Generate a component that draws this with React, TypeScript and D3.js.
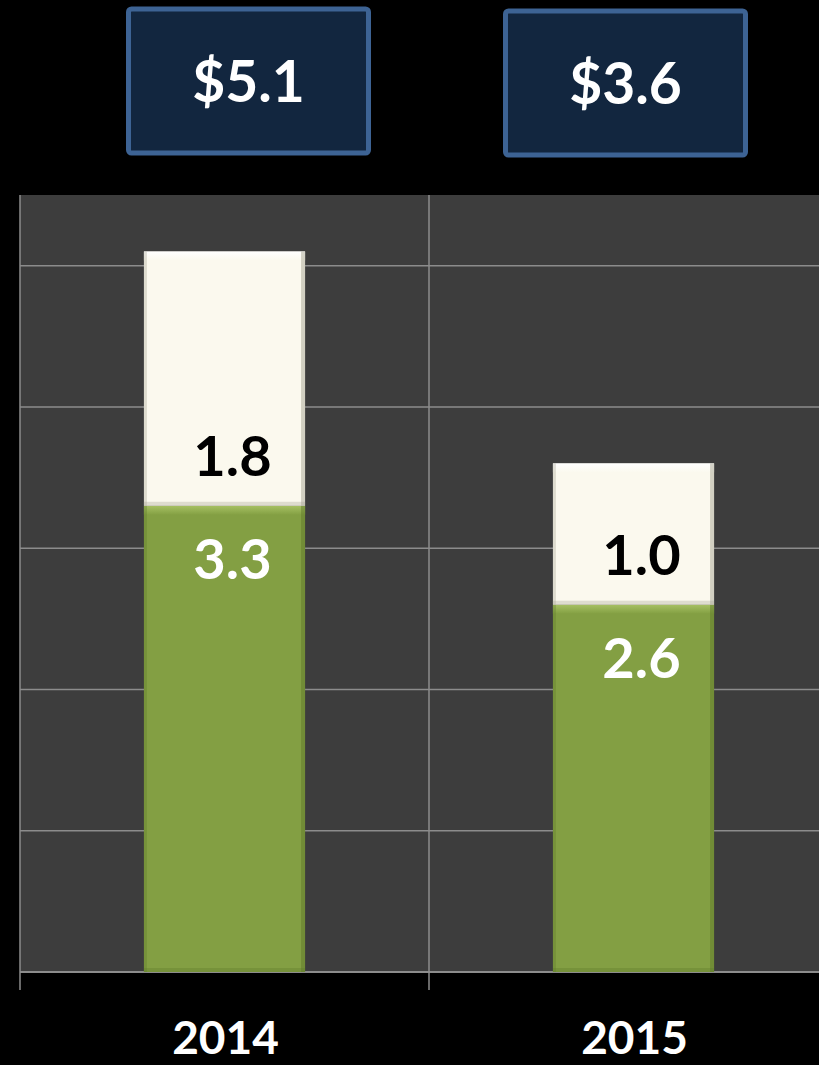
import { useEffect, useRef } from "react";
import * as d3 from "d3";

const years = ["2014", "2015"];
const baseValues = [3.3, 2.6];
const extraValues = [1.8, 1.0];
const totalLabels = ["$5.1", "$3.6"];
const yTicks = [1, 2, 3, 4, 5];

const W = 819;
const H = 1065;
const FONT = "Lato, 'Open Sans', sans-serif";

export default function App() {
  const ref = useRef<SVGSVGElement>(null);

  useEffect(() => {
    const svg = d3.select(ref.current);
    svg.selectAll("*").remove();

    const left = 20, right = 838, top = 195, bottom = 972;

    const outer = d3.scaleBand().domain(years).range([left, right]).padding(0);
    const x = d3
      .scaleBand()
      .domain(years)
      .range([left, right])
      .paddingInner(0.606)
      .paddingOuter(0.303);
    const y = d3.scaleLinear().domain([0, 5.5]).range([bottom, top]);

    const defs = svg.append("defs");
    const mkGrad = (id: string, stops: [number, string][]) => {
      const g = defs.append("linearGradient").attr("id", id).attr("x1", 0).attr("x2", 0).attr("y1", 0).attr("y2", 1);
      stops.forEach(([o, c]) => g.append("stop").attr("offset", o).attr("stop-color", c));
    };
    mkGrad("hiCream", [[0, "#ffffff"], [1, "#fbf9ee"]]);
    mkGrad("hiGreen", [[0, "#a6c063"], [1, "#84a043"]]);

    svg.append("rect").attr("width", W).attr("height", H).attr("fill", "#000");

    // plot area
    svg.append("rect")
      .attr("x", left).attr("y", top)
      .attr("width", right - left).attr("height", bottom - top)
      .attr("fill", "#3d3d3d");

    // horizontal grid
    svg.selectAll(".grid")
      .data(yTicks)
      .join("line")
      .attr("x1", left).attr("x2", right)
      .attr("y1", (d) => y(d)).attr("y2", (d) => y(d))
      .attr("stroke", "#8c8c8c").attr("stroke-width", 1.5);

    // vertical category lines + ticks
    svg.selectAll(".vline")
      .data(years)
      .join("line")
      .attr("x1", (d) => outer(d)!).attr("x2", (d) => outer(d)!)
      .attr("y1", top).attr("y2", bottom + 18)
      .attr("stroke", "#8c8c8c").attr("stroke-width", 1.5);

    // bottom axis
    svg.append("line")
      .attr("x1", left).attr("x2", right)
      .attr("y1", bottom).attr("y2", bottom)
      .attr("stroke", "#8c8c8c").attr("stroke-width", 2);

    const drawBar = (x0: number, w: number, y0: number, y1: number, fill: string, hi: string, edge: string) => {
      const g = svg.append("g");
      g.append("rect").attr("x", x0).attr("y", y0).attr("width", w).attr("height", y1 - y0).attr("fill", fill);
      // bevel: top highlight, side shading
      g.append("rect").attr("x", x0).attr("y", y0).attr("width", w).attr("height", 9).attr("fill", `url(#${hi})`);
      g.append("rect").attr("x", x0).attr("y", y0).attr("width", 3).attr("height", y1 - y0).attr("fill", edge).attr("opacity", 0.35);
      g.append("rect").attr("x", x0 + w - 4).attr("y", y0).attr("width", 4).attr("height", y1 - y0).attr("fill", edge).attr("opacity", 0.5);
      g.append("rect").attr("x", x0).attr("y", y1 - 4).attr("width", w).attr("height", 4).attr("fill", edge).attr("opacity", 0.35);
    };

    years.forEach((yr, i) => {
      const bx = x(yr)!;
      const bw = x.bandwidth();
      const b = baseValues[i];
      const t = b + extraValues[i];
      drawBar(bx, bw, y(b), y(0), "#839f43", "hiGreen", "#5f7a2a");
      drawBar(bx, bw, y(t), y(b), "#fbf9ee", "hiCream", "#a9a795");

      const cx = bx + bw / 2 + 8;
      svg.append("text")
        .attr("x", cx).attr("y", y(b) - 30)
        .attr("text-anchor", "middle")
        .attr("font-family", FONT).attr("font-weight", 700).attr("font-size", 56)
        .attr("fill", "#000")
        .text(extraValues[i].toFixed(1));
      svg.append("text")
        .attr("x", cx).attr("y", y(b) + 73)
        .attr("text-anchor", "middle")
        .attr("font-family", FONT).attr("font-weight", 700).attr("font-size", 56)
        .attr("fill", "#fff")
        .text(b.toFixed(1));

      // category label
      svg.append("text")
        .attr("x", bx + bw / 2 + 1).attr("y", 1054)
        .attr("text-anchor", "middle")
        .attr("font-family", FONT).attr("font-weight", 700).attr("font-size", 46)
        .attr("fill", "#fff")
        .text(yr);
    });

    // total boxes
    const boxOffsets = [24, -8];
    const boxTops = [7, 9];
    years.forEach((yr, i) => {
      const cx = x(yr)! + x.bandwidth() / 2 + boxOffsets[i];
      svg.append("rect")
        .attr("x", cx - 120).attr("y", boxTops[i] + 2)
        .attr("width", 240).attr("height", 144)
        .attr("rx", 3)
        .attr("fill", "#12263f").attr("stroke", "#3d6394").attr("stroke-width", 5);
      svg.append("text")
        .attr("x", cx).attr("y", boxTops[i] + 95)
        .attr("text-anchor", "middle")
        .attr("font-family", FONT).attr("font-weight", 700).attr("font-size", 57)
        .attr("fill", "#fff")
        .text(totalLabels[i]);
    });
  }, []);

  return (
    <svg
      ref={ref}
      width={W}
      height={H}
      style={{ position: "absolute", left: 0, top: 0, display: "block" }}
    />
  );
}
